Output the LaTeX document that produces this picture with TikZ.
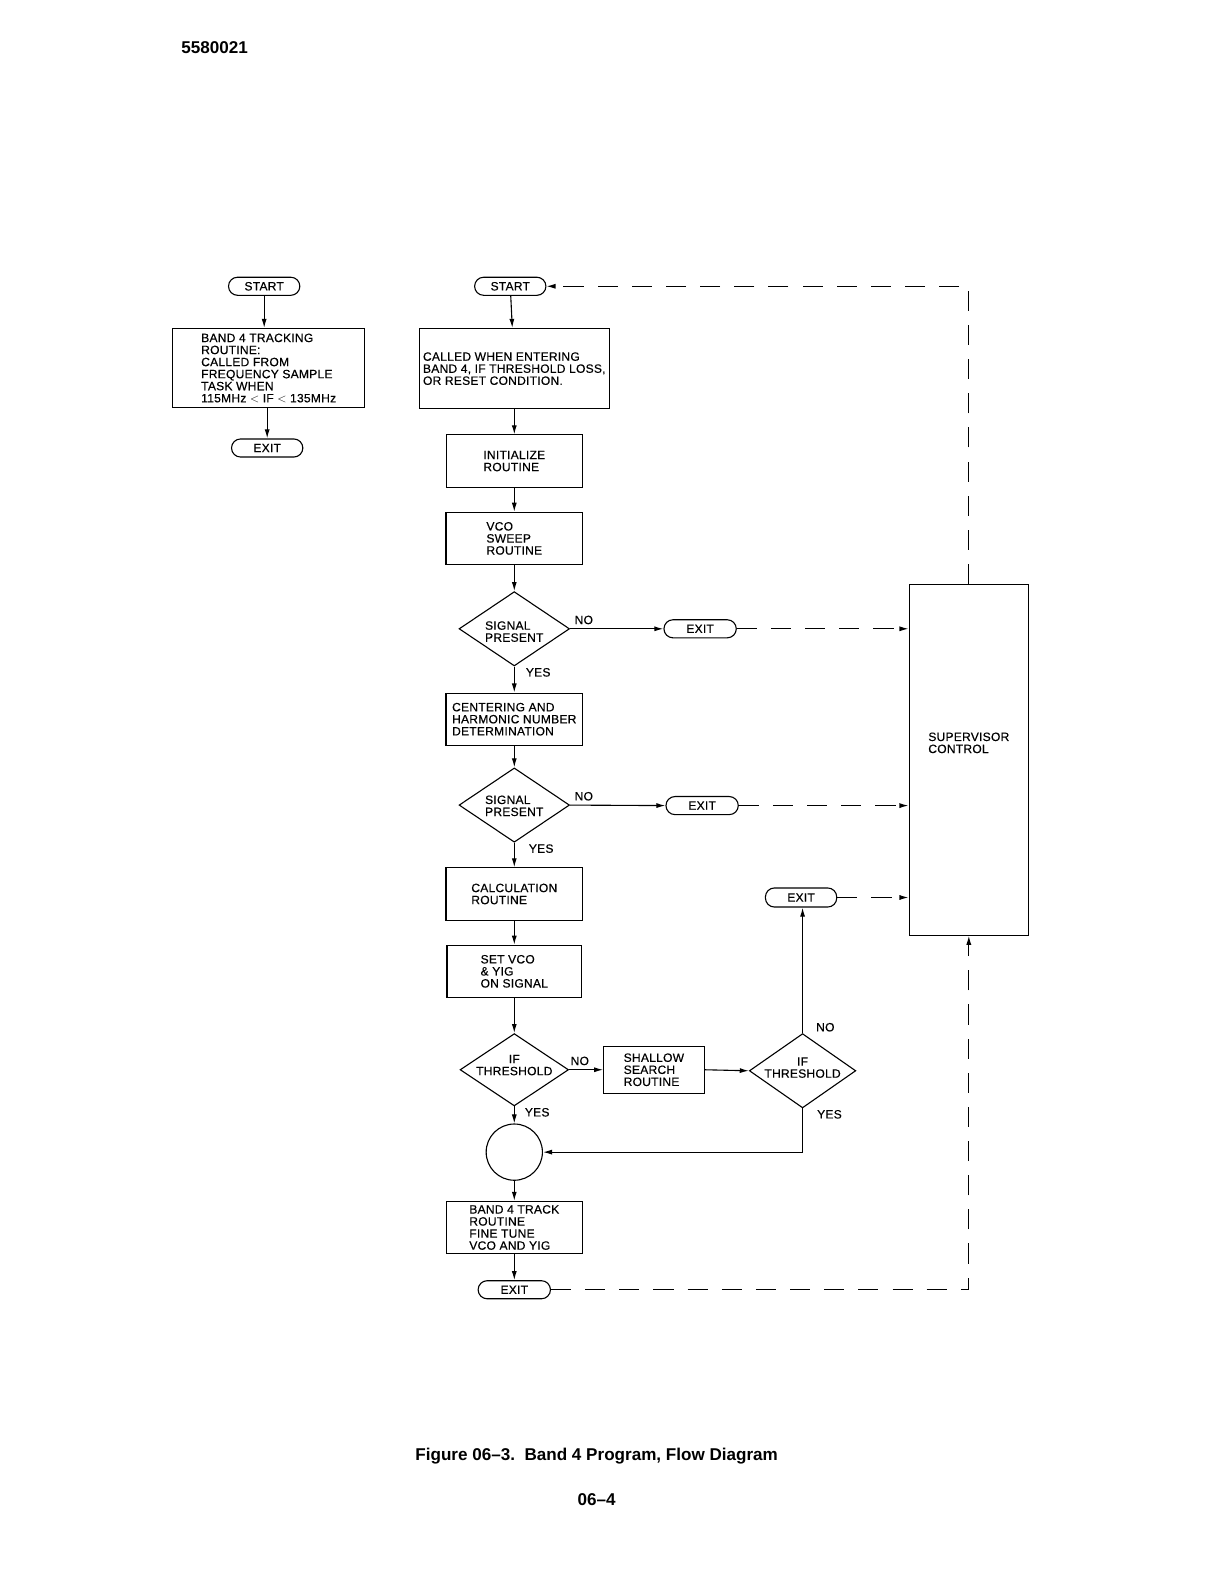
\documentclass[tikz,border=0pt]{standalone}
\usepackage{fontspec}
\setmainfont{Liberation Sans}
\newfontfamily\chartfont[LetterSpace=2,FakeBold=0.4]{Liberation Sans}
\usetikzlibrary{arrows.meta,positioning,shapes.geometric}
% text lines in a decision, lifted by #1, with a small fixed box
\newcommand{\decisiontext}[3]{\raisebox{#1}[6pt][6pt]{\begin{tabular}{@{}#2@{}}#3\end{tabular}}}

\begin{document}
\begin{tikzpicture}[
    x=1pt, y=-1pt,
    font=\chartfont\fontsize{12}{12}\selectfont,
    >={Latex[length=9pt,width=5pt]},
    box/.style={draw, line width=1.1pt, align=left, inner sep=3pt},
    term/.style={draw, line width=1.1pt, rounded corners=9pt, minimum height=18pt, minimum width=72pt, inner sep=0pt},
    decision/.style={draw, diamond, aspect=1.5, line width=1.1pt, inner sep=0pt, minimum width=110pt, minimum height=74pt},
    line/.style={->, line width=1.1pt},
    dashline/.style={->, line width=1.1pt, dash pattern=on 20pt off 14pt},
    lbl/.style={inner sep=1pt},
    nolbl/.style={lbl, pos=0, anchor=south west, xshift=3pt, yshift=3pt},
    yeslbl/.style={lbl, pos=0, anchor=north west},
    title/.style={font=\bfseries\fontsize{17}{20}\selectfont}
]
\useasboundingbox (0,0) rectangle (1203,1568);

% Page texts
\node[title, anchor=base west] (docno) at (177,53) {5580021};
\node[title, anchor=base] (caption) at (594,1454) {Figure 06--3.\ \ Band 4 Program, Flow Diagram};
\node[title, anchor=base] (pageno) at (594,1499) {06--4};

% Left chart
\node[term, minimum width=71pt] (start0) at (263,285) {START};
\node[box, minimum width=191pt, minimum height=79pt] (trk) at (267.5,366.5) {BAND 4 TRACKING\\ROUTINE:\\CALLED FROM\\FREQUENCY SAMPLE\\TASK WHEN\\115MHz $<$ IF $<$ 135MHz};
\node[term, minimum width=71pt] (exit0) at (266,446) {EXIT};

\draw[line] (start0.south) -- (start0.south |- trk.north);
\draw[line] (exit0.north |- trk.south) -- (exit0.north);

% Main chart
\node[term, minimum width=71pt] (start) at (508,285) {START};
\node[box, minimum width=189pt, minimum height=80pt] (called) at (512,367) {CALLED WHEN ENTERING\\BAND 4, IF THRESHOLD LOSS,\\OR RESET CONDITION.};
\node[box, minimum width=135pt, minimum height=52pt] (init) at (512,459) {INITIALIZE\\ROUTINE};
\node[box, minimum width=136pt, minimum height=52pt] (sweep) at (512,536) {VCO\\SWEEP\\ROUTINE};
\node[decision] (d1) at (512,626) {\decisiontext{-7.5pt}{l}{SIGNAL\\PRESENT}};
\node[term] (exit1) at (697,626) {EXIT};
\node[box, minimum width=136pt, minimum height=52pt] (cent) at (512,716) {CENTERING AND\\HARMONIC NUMBER\\DETERMINATION};
\node[decision] (d2) at (512,801.5) {\decisiontext{-5.5pt}{l}{SIGNAL\\PRESENT}};
\node[term] (exit2) at (699,802) {EXIT};
\node[box, minimum width=136pt, minimum height=52pt] (calc) at (512,890) {CALCULATION\\ROUTINE};
\node[box, minimum width=134pt, minimum height=52pt] (setvco) at (512,967) {SET VCO\\\& YIG\\ON SIGNAL};
\node[decision, minimum width=108pt, minimum height=72pt] (d3) at (512,1065) {\decisiontext{0pt}{c}{IF\\THRESHOLD}};
\node[box, minimum width=100pt, minimum height=47pt] (shallow) at (651,1065) {SHALLOW\\SEARCH\\ROUTINE};
\node[decision, minimum width=106pt, minimum height=74pt] (d4) at (799,1066) {\decisiontext{-1.5pt}{c}{IF\\THRESHOLD}};
\node[term, minimum width=71pt, minimum height=19pt] (exit3) at (797.5,893.5) {EXIT};
\node[draw, circle, line width=1.1pt, minimum size=56pt, inner sep=0pt] (join) at (512,1147) {};
\node[box, minimum width=135pt, minimum height=52pt] (track) at (512,1222) {BAND 4 TRACK\\ROUTINE\\FINE TUNE\\VCO AND YIG};
\node[term] (exit4) at (512,1284) {EXIT};
\node[box, text depth=34pt, minimum width=119pt, minimum height=349pt] (sup) at (964.5,756.5) {SUPERVISOR\\CONTROL};

% Main flow
\draw[line] (start) -- (called);
\draw[line] (called) -- (init);
\draw[line] (init) -- (sweep);
\draw[line] (sweep) -- (d1);
\draw[line] (d1) -- node[yeslbl, xshift=10pt] {YES} (cent);
\draw[line] (d1.east) -- node[nolbl] {NO} (exit1.west);
\draw[line] (cent) -- (d2);
\draw[line] (d2) -- node[yeslbl, xshift=13pt] {YES} (calc);
\draw[line] (d2.east) -- node[nolbl] {NO} (exit2.west);
\draw[line] (calc) -- (setvco);
\draw[line] (setvco) -- (d3);
\draw[line] (d3.east) -- node[nolbl, xshift=-3pt] {NO} (shallow.west);
\draw[line] (d3) -- node[yeslbl, xshift=9pt] {YES} (join);
\draw[line] (shallow.east) -- (d4.west);
\draw[line] (d4.north) -- node[lbl, pos=0, anchor=south west, xshift=12pt] {NO} (d4.north |- exit3.south);
\draw[line] (d4.south) |- node[yeslbl, xshift=13pt] {YES} (join.east);
\draw[line] (join) -- (track);
\draw[line] (track) -- (exit4);

% Supervisor returns
\draw[dashline] (exit1.east) -- (exit1.east -| sup.west);
\draw[dashline] (exit2.east) -- (exit2.east -| sup.west);
\draw[dashline] (exit3.east) -- (exit3.east -| sup.west);
\draw[dashline] (exit4.east) -| (sup.south);
\draw[dashline] (sup.north) |- (start.east);

\end{tikzpicture}
\end{document}
